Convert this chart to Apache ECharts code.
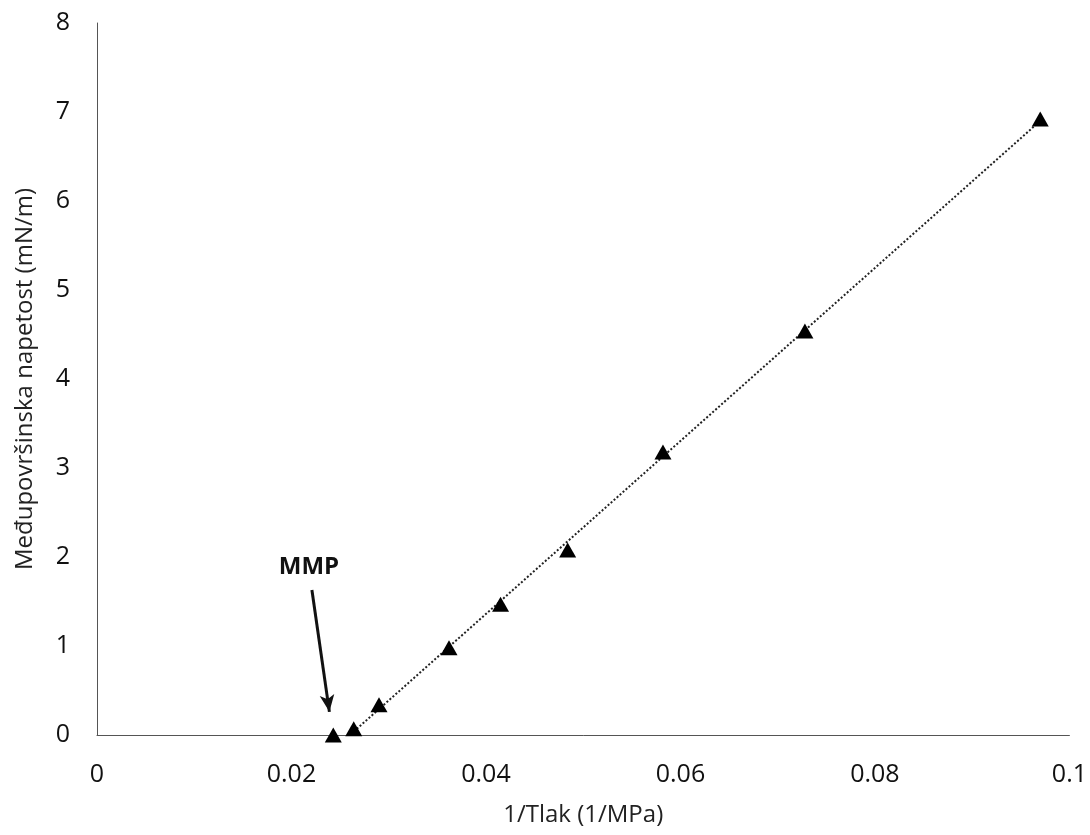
<!DOCTYPE html>
<html><head><meta charset="utf-8">
<script src="https://cdn.jsdelivr.net/npm/echarts@6/dist/echarts.min.js"></script>
<style>html,body{margin:0;padding:0;background:#fff}#c{width:1090px;height:835px}</style>
</head><body><div id="c"></div>
<script>
const xValues = [0.0243, 0.0264, 0.0290, 0.0362, 0.0415, 0.0484, 0.0582, 0.0728, 0.0970];
const yValues = [0.00, 0.07, 0.34, 0.98, 1.47, 2.08, 3.18, 4.54, 6.92];
const xTicks = [0, 0.02, 0.04, 0.06, 0.08, 0.1];
const yTicks = [0, 1, 2, 3, 4, 5, 6, 7, 8];
const annotationText = 'MMP';
const arrowStart = [0.0221, 1.63];
const arrowEnd = [0.0239, 0.26];
const labelAt = [0.0218, 1.89];

// linear trendline fitted to points 2..9
const fx = xValues.slice(1), fy = yValues.slice(1);
const n = fx.length;
const mx = fx.reduce((a,b)=>a+b,0)/n, my = fy.reduce((a,b)=>a+b,0)/n;
let sxy=0, sxx=0;
for (let i=0;i<n;i++){ sxy+=(fx[i]-mx)*(fy[i]-my); sxx+=(fx[i]-mx)*(fx[i]-mx); }
const slope = sxy/sxx, icpt = my - slope*mx;
const trend = [[fx[0], slope*fx[0]+icpt], [fx[n-1], slope*fx[n-1]+icpt]];

const font = 'Open Sans';
const chart = echarts.init(document.getElementById('c'));
chart.setOption({
  animation:false,
  backgroundColor:'#fff',
  grid:{left:97,right:18,top:23,bottom:100,containLabel:false},
  xAxis:{type:'value',min:xTicks[0],max:xTicks[xTicks.length-1],interval:0.02,
    name:'1/Tlak (1/MPa)',nameLocation:'middle',nameGap:68,
    nameTextStyle:{fontFamily:font,fontSize:24,color:'#222'},
    axisLine:{show:true,lineStyle:{color:'#555',width:1}},axisTick:{show:false},splitLine:{show:false},
    axisLabel:{margin:27,fontFamily:font,fontSize:25,color:'#111',formatter:v=>String(+v.toFixed(2))}},
  yAxis:{type:'value',min:yTicks[0],max:yTicks[yTicks.length-1],interval:1,
    name:'Međupovršinska napetost (mN/m)',nameLocation:'middle',nameGap:60,nameRotate:90,
    nameTextStyle:{fontFamily:font,fontSize:24,color:'#222'},
    axisLine:{show:true,lineStyle:{color:'#555',width:1}},axisTick:{show:false},splitLine:{show:false},
    axisLabel:{margin:27,fontFamily:font,fontSize:25,color:'#111'}},
  series:[
    {type:'line',data:trend,symbol:'none',lineStyle:{color:'#222',width:2,type:[2,2]},z:1,silent:true},
    {type:'scatter',data:xValues.map((x,i)=>[x,yValues[i]]),symbol:'triangle',symbolSize:[17,15],
      itemStyle:{color:'#000',opacity:1},z:3,
      markLine:{silent:true,symbol:['none','arrow'],symbolSize:[11,17],
        lineStyle:{color:'#111',width:3,type:'solid'},label:{show:false},
        data:[[{coord:arrowStart},{coord:arrowEnd}]]},
      markPoint:{silent:true,symbol:'rect',symbolSize:1,itemStyle:{color:'transparent'},
        label:{show:true,formatter:annotationText,fontFamily:font,fontWeight:'bold',fontSize:24,color:'#111',position:'inside'},
        data:[{coord:labelAt}]}
    }
  ]
});
</script></body></html>
